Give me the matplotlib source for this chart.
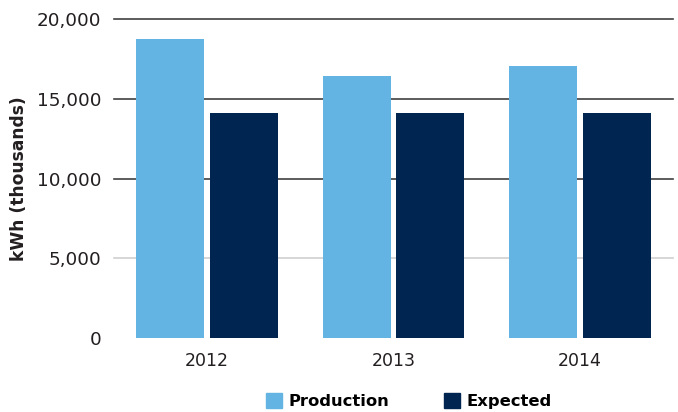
import matplotlib
matplotlib.use("Agg")
import matplotlib.pyplot as plt
from matplotlib.patches import Patch
import numpy as np

years = ["2012", "2013", "2014"]
production = [18800, 16450, 17100]
expected = [14150, 14150, 14150]
yticks = [0, 5000, 10000, 15000, 20000]

c_prod = "#63B3E3"
c_exp = "#012551"

plt.rcParams["font.family"] = ["DejaVu Sans"]

fig = plt.figure(figsize=(6.78, 4.12), dpi=100)
ax = fig.add_axes([0.1681, 0.1803, 0.8245, 0.7724])

x = np.arange(len(years))
w = 0.365
off = 0.198
ax.bar(x - off, production, width=w, color=c_prod, zorder=3)
ax.bar(x + off, expected, width=w, color=c_exp, zorder=3)

ax.set_xlim(-0.5, 2.5)
ax.set_ylim(0, 20000)
for t in yticks[1:]:
    col = "#d0d0d0" if t == 5000 else "#404040"
    ax.axhline(t, color=col, lw=1.2, zorder=1, clip_on=False)

ax.set_yticks(yticks)
ax.set_yticklabels([f"{v:,}" for v in yticks], fontsize=13.2, color="#231f20")
ax.set_xticks(x)
ax.set_xticklabels(years, fontsize=12.5, color="#231f20")
ax.tick_params(axis="both", length=0)
ax.tick_params(axis="y", pad=9)
ax.tick_params(axis="x", pad=10)
for s in ax.spines.values():
    s.set_visible(False)

ax.set_ylabel("kWh (thousands)", fontsize=12.3, fontweight="bold", color="#231f20")
ax.yaxis.set_label_coords(-0.154, 0.5)

handles = [Patch(color=c_prod, label="Production"), Patch(color=c_exp, label="Expected")]
fig.legend(handles=handles, loc="center", bbox_to_anchor=(0.603, 0.027), ncol=2,
           frameon=False, prop={"weight": "bold", "size": 11.8},
           handlelength=1.0, handleheight=1.0, handletextpad=0.4, columnspacing=3.3)

fig.savefig("out.png", dpi=100)
